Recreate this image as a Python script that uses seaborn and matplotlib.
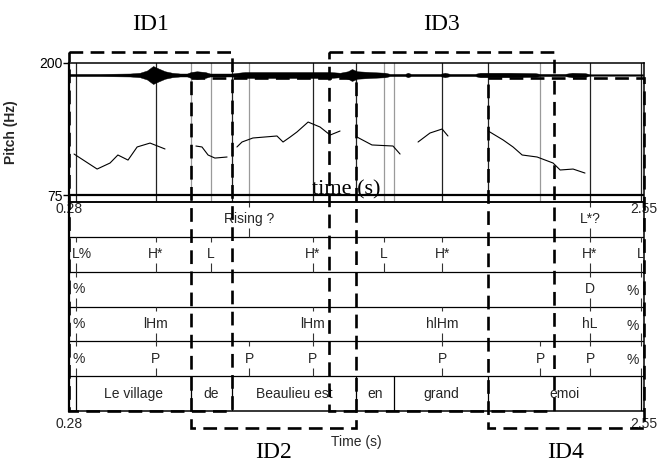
import numpy as np
import pandas as pd
import matplotlib
matplotlib.use("Agg")
import matplotlib.pyplot as plt
import seaborn as sns
from matplotlib.patches import Rectangle

sns.set_theme(style="white")
plt.rcParams["font.family"] = ["Liberation Sans", "DejaVu Sans"]
plt.rcParams["font.size"] = 10

# ---------------------------------------------------------------
# data (time in s, pitch in Hz)
# ---------------------------------------------------------------
T_START, T_END = 0.28, 2.55

f0_time_1 = [0.300, 0.391, 0.442, 0.473, 0.513, 0.549, 0.600, 0.659]
f0_hz_1 = [113.8, 99.6, 105.3, 112.9, 108.1, 120.5, 124.2, 118.6]
f0_time_2 = [0.781, 0.805, 0.829, 0.856, 0.904]
f0_hz_2 = [121.4, 120.5, 112.9, 110.0, 111.0]
f0_time_3 = [0.943, 0.963, 1.006, 1.101, 1.125, 1.153, 1.180, 1.224, 1.271, 1.311, 1.350]
f0_hz_3 = [120.5, 125.2, 129.0, 130.9, 125.2, 129.9, 134.7, 144.1, 139.4, 131.8, 135.6]
f0_time_4 = [1.417, 1.476, 1.559, 1.587]
f0_hz_4 = [129.9, 122.4, 121.4, 113.8]
f0_time_5 = [1.658, 1.705, 1.753, 1.776]
f0_hz_5 = [125.2, 133.7, 137.5, 130.9]
f0_time_6 = [1.935, 1.994, 2.033, 2.069, 2.128, 2.191, 2.219, 2.270, 2.317]
f0_hz_6 = [135.6, 127.1, 120.5, 112.9, 111.0, 105.3, 98.7, 99.6, 95.8]

# waveform envelope (relative amplitude)
wave_time = [0.280, 0.402, 0.521, 0.560, 0.588, 0.612, 0.631, 0.659, 0.687, 0.718,
             0.746, 0.762, 0.785, 0.817, 0.837, 0.896, 0.924, 0.947, 0.975, 1.034,
             1.113, 1.192, 1.271, 1.310, 1.350, 1.381, 1.397, 1.417, 1.468, 1.528,
             1.547, 1.607, 1.618, 1.630, 1.745, 1.764, 1.784, 1.883, 1.903, 1.930,
             2.021, 2.120, 2.140, 2.238, 2.266, 2.317, 2.337, 2.546]
wave_amp = [1.5, 1.5, 2.0, 3.0, 6.0, 12.0, 9.0, 5.0, 3.0, 2.0,
            2.0, 4.0, 5.0, 4.0, 2.0, 2.0, 2.0, 3.0, 4.0, 4.0,
            4.0, 4.0, 4.0, 4.0, 3.0, 5.0, 8.0, 5.0, 4.0, 3.0,
            1.5, 1.5, 3.0, 1.5, 1.5, 3.0, 1.5, 1.5, 3.0, 3.0,
            3.0, 2.5, 1.5, 1.5, 3.0, 2.5, 1.0, 1.0]

# boundaries shown in the pitch panel
lines_dark = [0.308, 0.623, 0.924, 1.243, 1.413, 1.753, 1.934, 2.337, 2.538]
lines_gray = [0.762, 0.841, 0.991, 1.524, 1.563, 2.140]

# point tiers
tier1_time = [0.991, 2.337]
tier1_text = ["Rising ?", "L*?"]
tier2_time = [0.308, 0.623, 0.841, 1.243, 1.524, 1.753, 2.337, 2.538]
tier2_text = ["L%", "H*", "L", "H*", "L", "H*", "H*", "L"]
tier3_time = [0.308, 2.337, 2.538]
tier3_text = ["%", "D", "%"]
tier4_time = [0.308, 0.623, 1.243, 1.753, 2.337, 2.538]
tier4_text = ["%", "lHm", "lHm", "hlHm", "hL", "%"]
tier5_time = [0.308, 0.623, 0.991, 1.243, 1.753, 2.140, 2.337, 2.538]
tier5_text = ["%", "P", "P", "P", "P", "P", "P", "%"]

# word tier
word_bounds = [0.308, 0.762, 0.924, 1.413, 1.563, 1.934, 2.538]
words = ["Le village", "de", "Beaulieu est", "en", "grand", "emoi"]

# highlighted windows
box_names = ["ID1", "ID2", "ID3", "ID4"]
box_start = [0.28, 0.762, 1.306, 1.934]
box_end = [0.924, 1.413, 2.195, 2.55]

# ---------------------------------------------------------------
W, H = 658, 463


def px_rect(x0, y0, x1, y1):
    return [x0 / W, 1 - y1 / H, (x1 - x0) / W, (y1 - y0) / H]


fig = plt.figure(figsize=(W / 100, H / 100), dpi=100)
fig.patch.set_facecolor("white")

# pitch panel
ax_p = fig.add_axes(px_rect(69, 63, 644, 202))
ax_p.set_facecolor("white")
for t in lines_dark:
    ax_p.axvline(t, color="#222222", lw=0.9)
for t in lines_gray:
    ax_p.axvline(t, color="#9a9a9a", lw=0.9)
ax_p.axhline(75, color="black", lw=1.6)

f0_times = [f0_time_1, f0_time_2, f0_time_3, f0_time_4, f0_time_5, f0_time_6]
f0_vals = [f0_hz_1, f0_hz_2, f0_hz_3, f0_hz_4, f0_hz_5, f0_hz_6]
df = pd.concat([pd.DataFrame({"time": t, "f0": f, "seg": i})
                for i, (t, f) in enumerate(zip(f0_times, f0_vals))])
sns.lineplot(data=df, x="time", y="f0", units="seg", estimator=None, sort=False,
             color="black", lw=0.8, ax=ax_p, legend=False)

ax_p.set_xlim(T_START, T_END)
ax_p.set_ylim(68.4, 200)
ax_p.set_yticks([75, 200])
ax_p.set_yticklabels(["75", "200"])
ax_p.set_xticks([T_START, T_END])
ax_p.set_xticklabels(["0.28", "2.55"])
ax_p.tick_params(axis="y", left=True, length=4.3, width=1, direction="out", pad=0,
                 labelsize=10, colors="black")
ax_p.tick_params(axis="x", bottom=False, length=0, pad=0, labelsize=10)
ax_p.set_xlabel("")
ax_p.set_ylabel("Pitch (Hz)", fontweight="bold", fontsize=10)
ax_p.yaxis.set_label_coords(-0.089, 0.5)
for s in ax_p.spines.values():
    s.set_color("black")
    s.set_linewidth(1.1)
ax_p.spines["left"].set_linewidth(1.6)

# waveform overlay
ax_w = fig.add_axes(px_rect(69, 60, 644, 90))
ax_w.patch.set_alpha(0)
amp = np.array(wave_amp)
ax_w.fill_between(wave_time, -amp, amp, color="black", lw=0.3, edgecolor="black")
ax_w.set_xlim(T_START, T_END)
ax_w.set_ylim(-20, 20)
ax_w.axis("off")

# text grid tiers
ax_t = fig.add_axes(px_rect(69, 202, 644, 411))
ax_t.patch.set_alpha(0)
ax_t.set_xlim(T_START, T_END)
ax_t.set_ylim(6, 0)
for i in range(1, 6):
    ax_t.axhline(i, color="black", lw=0.9)

point_tiers = [(tier1_time, tier1_text), (tier2_time, tier2_text),
               (tier3_time, tier3_text), (tier4_time, tier4_text),
               (tier5_time, tier5_text)]
for row, (times, texts) in enumerate(point_tiers):
    for t, lab in zip(times, texts):
        ax_t.vlines(t, row, row + 0.14, color="#333333", lw=0.8)
        ax_t.vlines(t, row + 0.76, row + 1, color="#333333", lw=0.8)
        if t < 0.35:
            ax_t.text(t - 0.016, row + 0.5, lab, ha="left", va="center", fontsize=10)
        elif t > 2.5 and lab == "%":
            ax_t.text(2.53, row + 0.55, lab, ha="right", va="center", fontsize=10)
        else:
            ax_t.text(t, row + 0.5, lab, ha="center", va="center", fontsize=10)

ax_t.vlines(word_bounds, 5, 6, color="black", lw=0.9)
for a, b, w in zip(word_bounds[:-1], word_bounds[1:], words):
    ax_t.text((a + b) / 2, 5.5, w, ha="center", va="center", fontsize=10)

ax_t.set_xticks([T_START, T_END])
ax_t.set_xticklabels(["0.28", "2.55"])
ax_t.set_yticks([])
ax_t.tick_params(axis="x", bottom=False, length=0, pad=4, labelsize=10)
ax_t.set_xlabel("Time (s)", fontsize=10, labelpad=3)
for s in ax_t.spines.values():
    s.set_color("black")
    s.set_linewidth(1.1)
ax_t.spines["left"].set_linewidth(1.6)

# dashed annotation windows on top
ax_o = fig.add_axes(px_rect(69, 0, 644, H), zorder=10)
ax_o.patch.set_alpha(0)
ax_o.set_xlim(T_START, T_END)
ax_o.set_ylim(H, 0)
ax_o.axis("off")
serif = ["Liberation Serif", "DejaVu Serif"]
for k, (name, a, b) in enumerate(zip(box_names, box_start, box_end)):
    top, bottom = (52, 411) if k % 2 == 0 else (78, 428)
    ax_o.add_patch(Rectangle((a, top), b - a, bottom - top, fill=False,
                             ec="black", lw=1.9, ls=(0, (5.2, 2.8)), clip_on=False))
    ly = 25 if k % 2 == 0 else 452
    ax_o.text((a + b) / 2, ly, name, ha="center", va="center", fontsize=17,
              family=serif, color="black")
ax_o.text(1.374, 190, "time (s)", ha="center", va="center", fontsize=16,
          family=serif, color="black")

fig.savefig("out.png", dpi=100)
